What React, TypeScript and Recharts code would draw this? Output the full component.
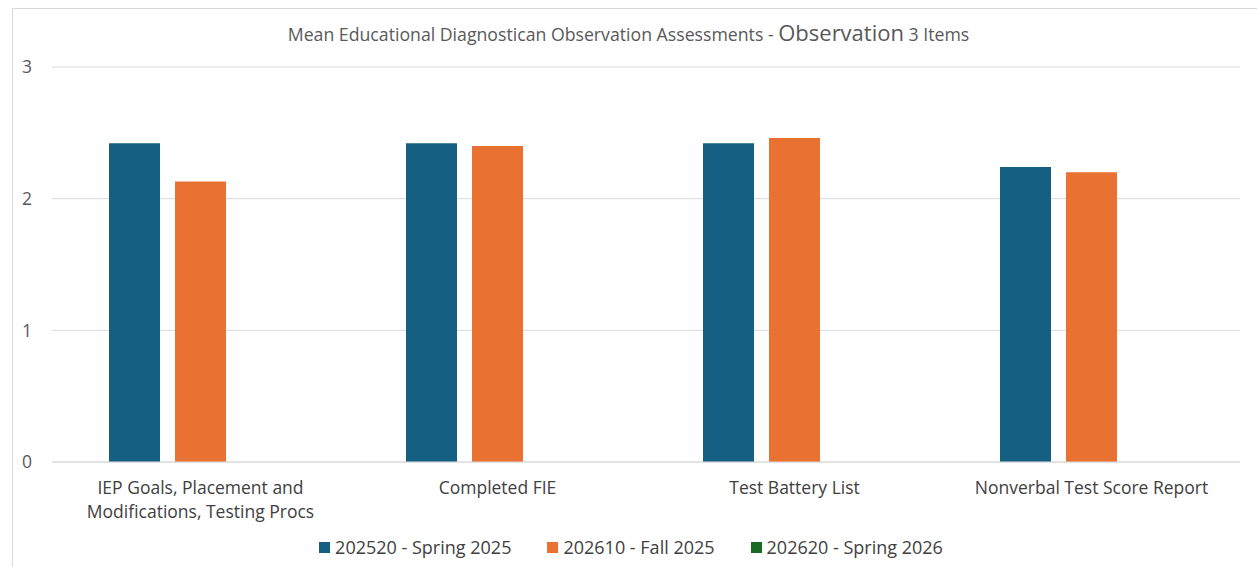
import { BarChart, Bar, XAxis, YAxis, CartesianGrid, Legend } from 'recharts';

const categories = [
  'IEP Goals, Placement and Modifications, Testing Procs',
  'Completed FIE',
  'Test Battery List',
  'Nonverbal Test Score Report',
];
const spring2025 = [2.42, 2.42, 2.42, 2.24];
const fall2025 = [2.13, 2.4, 2.46, 2.2];
const spring2026: (number | null)[] = [null, null, null, null];

const seriesNames = ['202520 - Spring 2025', '202610 - Fall 2025', '202620 - Spring 2026'];
const seriesColors = ['#156082', '#E97132', '#196B24'];
const yTicks = [0, 1, 2, 3];

const data = categories.map((name, i) => ({
  name,
  s1: spring2025[i],
  s2: fall2025[i],
  s3: spring2026[i],
}));

const FONT = '"Open Sans", "Noto Sans", sans-serif';

const wrap = (label: string, max: number) => {
  const lines: string[] = [];
  let cur = '';
  label.split(' ').forEach((w) => {
    const next = cur ? cur + ' ' + w : w;
    if (next.length > max && cur) {
      lines.push(cur);
      cur = w;
    } else {
      cur = next;
    }
  });
  if (cur) lines.push(cur);
  return lines;
};

const CategoryTick = (props: any) => {
  const { x, y, payload } = props;
  const lines = wrap(payload.value, 28);
  return (
    <g transform={`translate(${x},${y})`}>
      {lines.map((l, i) => (
        <text key={i} x={0} y={24 + i * 24} textAnchor="middle" fill="#404040" fontSize={17.5} fontFamily={FONT}>
          {l}
        </text>
      ))}
    </g>
  );
};

const LegendContent = () => (
  <div style={{ height: 40, display: 'flex', justifyContent: 'center', alignItems: 'center', gap: 36, fontFamily: FONT, fontSize: 18, color: '#404040', paddingLeft: 10 }}>
    {seriesNames.map((n, i) => (
      <div key={n} style={{ display: 'flex', alignItems: 'center' }}>
        <span style={{ width: 11, height: 11, background: seriesColors[i], display: 'inline-block', marginRight: 5 }} />
        <span>{n}</span>
      </div>
    ))}
  </div>
);

const App = () => {
  return (
    <div style={{ position: 'absolute', left: 0, top: 0, width: 1257, height: 567, background: '#fff', overflow: 'hidden' }}>
      <div style={{ position: 'absolute', left: 12, top: 8, width: 1300, height: 600, border: '1px solid #d9d9d9' }} />
      <div style={{ position: 'absolute', top: 17, left: 0, width: 1257, textAlign: 'center', fontFamily: FONT, fontSize: 17.7, color: '#595959' }}>
        Mean Educational Diagnostican Observation Assessments - <span style={{ fontSize: 22 }}>Observation</span> 3 Items
      </div>
      <BarChart
        width={1257}
        height={567}
        data={data}
        margin={{ top: 67, right: 17, left: 12, bottom: 0 }}
        barSize={51}
        barGap={15}
        style={{ position: 'absolute', left: 0, top: 0 }}
      >
        <CartesianGrid vertical={false} stroke="#d9d9d9" />
        <XAxis dataKey="name" height={65} tick={<CategoryTick />} tickLine={false} axisLine={{ stroke: '#d9d9d9' }} interval={0} />
        <YAxis
          domain={[0, 3]}
          ticks={yTicks}
          width={40}
          axisLine={false}
          tickLine={false}
          tickMargin={14}
          tick={{ fill: '#595959', fontSize: 17.5, fontFamily: FONT }}
        />
        <Legend verticalAlign="bottom" content={<LegendContent />} />
        <Bar dataKey="s1" name={seriesNames[0]} fill={seriesColors[0]} isAnimationActive={false} />
        <Bar dataKey="s2" name={seriesNames[1]} fill={seriesColors[1]} isAnimationActive={false} />
        <Bar dataKey="s3" name={seriesNames[2]} fill={seriesColors[2]} isAnimationActive={false} />
      </BarChart>
    </div>
  );
};

export default App;
